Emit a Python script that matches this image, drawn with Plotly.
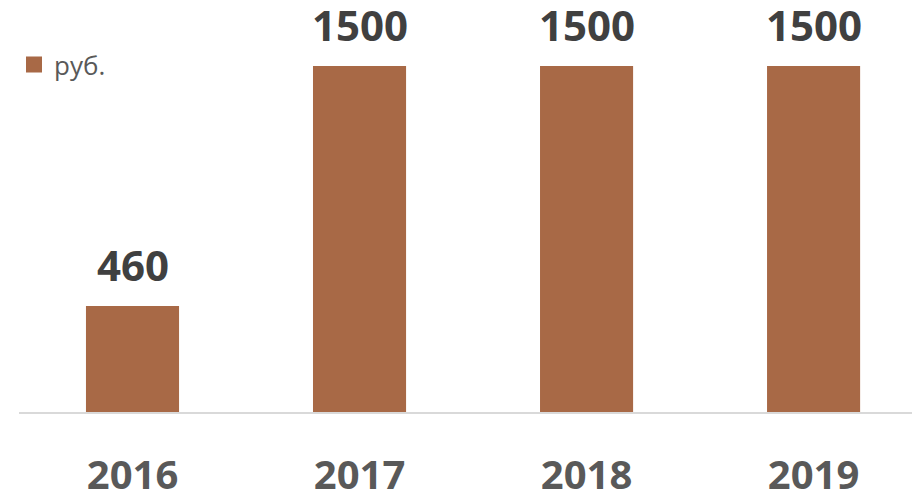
import plotly.graph_objects as go

years = ["2016", "2017", "2018", "2019"]
values = [460, 1500, 1500, 1500]
series_name = "руб."

bar_color = "#A86946"

fig = go.Figure()
fig.add_trace(go.Bar(
    x=list(range(len(years))),
    y=values,
    name=series_name,
    marker=dict(color=bar_color, line=dict(width=0)),
    width=0.41,
    showlegend=False,
))
# legend entry with a larger square swatch
fig.add_trace(go.Scatter(
    x=[None], y=[None], mode="markers", name=series_name,
    marker=dict(symbol="square", size=19, color=bar_color),
    showlegend=True,
))

for i, v in enumerate(values):
    fig.add_annotation(
        x=i, y=v, text=str(v), showarrow=False,
        yanchor="bottom", yshift=11,
        font=dict(family="Open Sans", size=42, color="#404040", weight="bold"),
    )

fig.update_layout(
    width=920, height=492,
    margin=dict(l=11, r=0, t=12, b=88),
    paper_bgcolor="white", plot_bgcolor="white",
    showlegend=True,
    legend=dict(x=-0.0055, y=0.946, xanchor="left", yanchor="top",
                font=dict(family="Open Sans", size=26, color="#595959"),
                bgcolor="rgba(0,0,0,0)", itemwidth=30),
    xaxis=dict(
        tickmode="array", tickvals=list(range(len(years))), ticktext=years,
        range=[-0.5, 3.504], automargin=False,
        showgrid=False, zeroline=False,
        showline=True, linecolor="#D9D9D9", linewidth=1.5,
        ticks="", ticklabelstandoff=27,
        tickfont=dict(family="Open Sans", size=40, color="#595959", weight="bold"),
    ),
    yaxis=dict(range=[0, 1700], visible=False, automargin=False),
)

fig.write_html("out.html")
